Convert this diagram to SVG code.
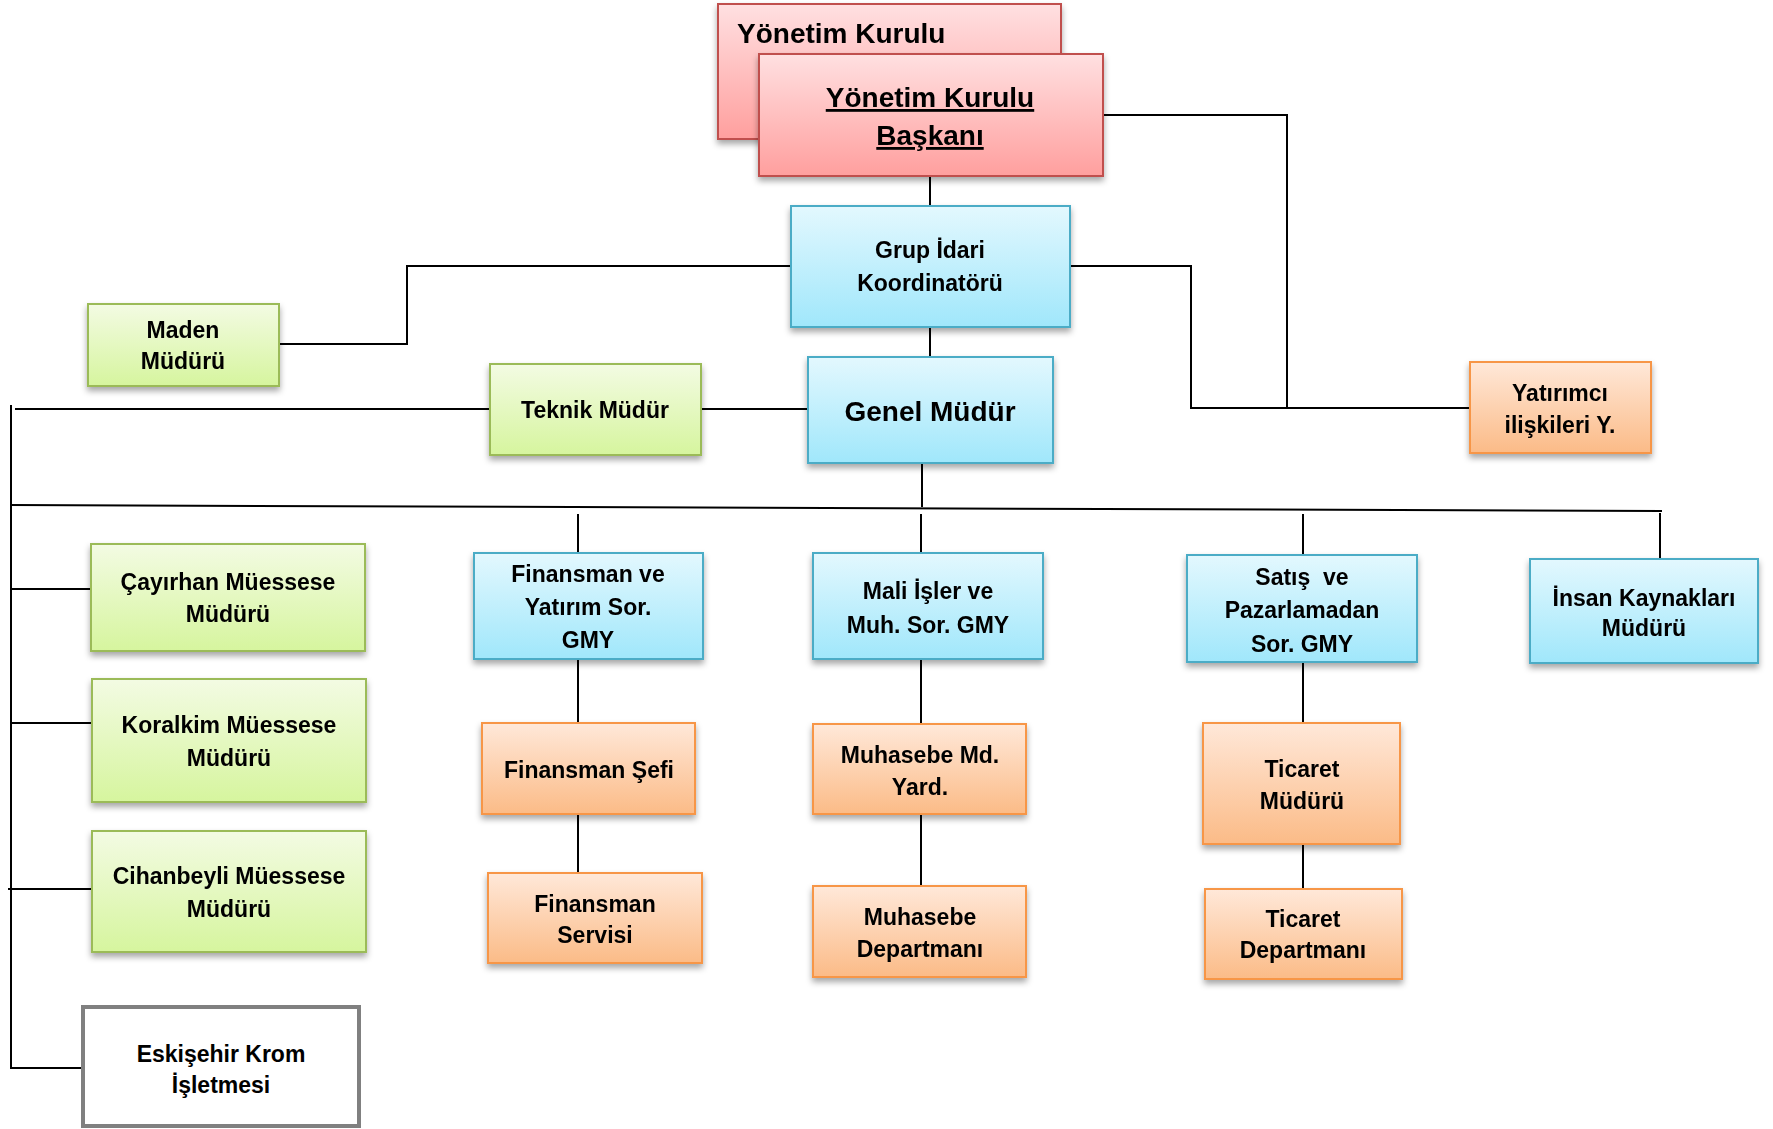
<svg xmlns="http://www.w3.org/2000/svg" width="1773" height="1129" viewBox="0 0 1773 1129">
<style>
text{font-family:"Liberation Sans",Arial,sans-serif;font-weight:bold;fill:#000;text-anchor:middle;font-size:23px}
.big{font-size:28px}
.ul{text-decoration:underline}
.red{fill:url(#gRed);stroke:#c0504d;stroke-width:2}
.blue{fill:url(#gBlue);stroke:#4bacc6;stroke-width:2}
.green{fill:url(#gGreen);stroke:#9bbb59;stroke-width:2}
.orange{fill:url(#gOrange);stroke:#f79646;stroke-width:2}
.gray{fill:#fff;stroke:#808080;stroke-width:4}
.box{filter:url(#sh)}
#connectors path{fill:none;stroke:#000;stroke-width:2}
</style>
<defs>
<linearGradient id="gRed" x1="0" y1="0" x2="0" y2="1"><stop offset="0" stop-color="#ffe0e1"/><stop offset="1" stop-color="#ff9f9e"/></linearGradient>
<linearGradient id="gBlue" x1="0" y1="0" x2="0" y2="1"><stop offset="0" stop-color="#e3f8fe"/><stop offset="1" stop-color="#a0e7fb"/></linearGradient>
<linearGradient id="gGreen" x1="0" y1="0" x2="0" y2="1"><stop offset="0" stop-color="#f3fbe3"/><stop offset="1" stop-color="#d6f59e"/></linearGradient>
<linearGradient id="gOrange" x1="0" y1="0" x2="0" y2="1"><stop offset="0" stop-color="#ffe8d9"/><stop offset="1" stop-color="#fbbb87"/></linearGradient>
<filter id="sh" x="-10%" y="-10%" width="120%" height="130%"><feDropShadow dx="0" dy="4" stdDeviation="3" flood-color="#000" flood-opacity="0.35"/></filter>
</defs>
<rect width="1773" height="1129" fill="#fff"/>
<g id="connectors">
<path d="M930 176V206"/>
<path d="M930 327V357"/>
<path d="M791 266H407V344H279"/>
<path d="M1070 266H1191V408H1470"/>
<path d="M1103 115H1287V408"/>
<path d="M808 409H701"/>
<path d="M490 409H15"/>
<path d="M11 405V1068H83"/>
<path d="M922 463V507"/>
<path d="M10 505L1662 511"/>
<path d="M578 514V553"/>
<path d="M921 514V553"/>
<path d="M1303 514V555"/>
<path d="M1660 513V559"/>
<path d="M11 589H91"/>
<path d="M11 723H92"/>
<path d="M8 889H92"/>
<path d="M578 659V723M578 814V873"/>
<path d="M921 659V724M921 814V886"/>
<path d="M1303 662V723M1303 844V889"/>
</g>
<g id="yonetim-kurulu" class="box"><rect class="red" x="718" y="4" width="343" height="135"/><text class="big" x="737" y="43" style="text-anchor:start">Yönetim Kurulu</text></g>
<g id="yk-baskani" class="box"><rect class="red" x="759" y="54" width="344" height="122"/><text class="big ul" x="930" y="107">Yönetim Kurulu</text><text class="big ul" x="930" y="145">Başkanı</text></g>
<g id="grup-idari" class="box"><rect class="blue" x="791" y="206" width="279" height="121"/><text x="930" y="258">Grup İdari</text><text x="930" y="291">Koordinatörü</text></g>
<g id="genel-mudur" class="box"><rect class="blue" x="808" y="357" width="245" height="106"/><text class="big" x="930" y="421">Genel Müdür</text></g>
<g id="maden" class="box"><rect class="green" x="88" y="304" width="191" height="82"/><text x="183" y="338">Maden</text><text x="183" y="369">Müdürü</text></g>
<g id="teknik" class="box"><rect class="green" x="490" y="364" width="211" height="91"/><text x="595" y="418">Teknik Müdür</text></g>
<g id="yatirimci" class="box"><rect class="orange" x="1470" y="362" width="181" height="91"/><text x="1560" y="401">Yatırımcı</text><text x="1560" y="433">ilişkileri Y.</text></g>
<g id="cayirhan" class="box"><rect class="green" x="91" y="544" width="274" height="107"/><text x="228" y="590">Çayırhan Müessese</text><text x="228" y="622">Müdürü</text></g>
<g id="koralkim" class="box"><rect class="green" x="92" y="679" width="274" height="123"/><text x="229" y="733">Koralkim Müessese</text><text x="229" y="766">Müdürü</text></g>
<g id="cihanbeyli" class="box"><rect class="green" x="92" y="831" width="274" height="121"/><text x="229" y="884">Cihanbeyli Müessese</text><text x="229" y="917">Müdürü</text></g>
<g id="eskisehir"><rect class="gray" x="83" y="1007" width="276" height="119"/><text x="221" y="1062">Eskişehir Krom</text><text x="221" y="1093">İşletmesi</text></g>
<g id="finansman-gmy" class="box"><rect class="blue" x="474" y="553" width="229" height="106"/><text x="588" y="582">Finansman ve</text><text x="588" y="615">Yatırım Sor.</text><text x="588" y="648">GMY</text></g>
<g id="mali-gmy" class="box"><rect class="blue" x="813" y="553" width="230" height="106"/><text x="928" y="599">Mali İşler ve</text><text x="928" y="633">Muh. Sor. GMY</text></g>
<g id="satis-gmy" class="box"><rect class="blue" x="1187" y="555" width="230" height="107"/><text x="1302" y="585" style="white-space:pre">Satış  ve</text><text x="1302" y="618">Pazarlamadan</text><text x="1302" y="652">Sor. GMY</text></g>
<g id="insan" class="box"><rect class="blue" x="1530" y="559" width="228" height="104"/><text x="1644" y="606">İnsan Kaynakları</text><text x="1644" y="636">Müdürü</text></g>
<g id="finansman-sefi" class="box"><rect class="orange" x="482" y="723" width="213" height="91"/><text x="589" y="778">Finansman Şefi</text></g>
<g id="finansman-servisi" class="box"><rect class="orange" x="488" y="873" width="214" height="90"/><text x="595" y="912">Finansman</text><text x="595" y="943">Servisi</text></g>
<g id="muhasebe-yard" class="box"><rect class="orange" x="813" y="724" width="213" height="90"/><text x="920" y="763">Muhasebe Md.</text><text x="920" y="795">Yard.</text></g>
<g id="muhasebe-dep" class="box"><rect class="orange" x="813" y="886" width="213" height="91"/><text x="920" y="925">Muhasebe</text><text x="920" y="957">Departmanı</text></g>
<g id="ticaret-mudur" class="box"><rect class="orange" x="1203" y="723" width="197" height="121"/><text x="1302" y="777">Ticaret</text><text x="1302" y="809">Müdürü</text></g>
<g id="ticaret-dep" class="box"><rect class="orange" x="1205" y="889" width="197" height="90"/><text x="1303" y="927">Ticaret</text><text x="1303" y="958">Departmanı</text></g>
</svg>
